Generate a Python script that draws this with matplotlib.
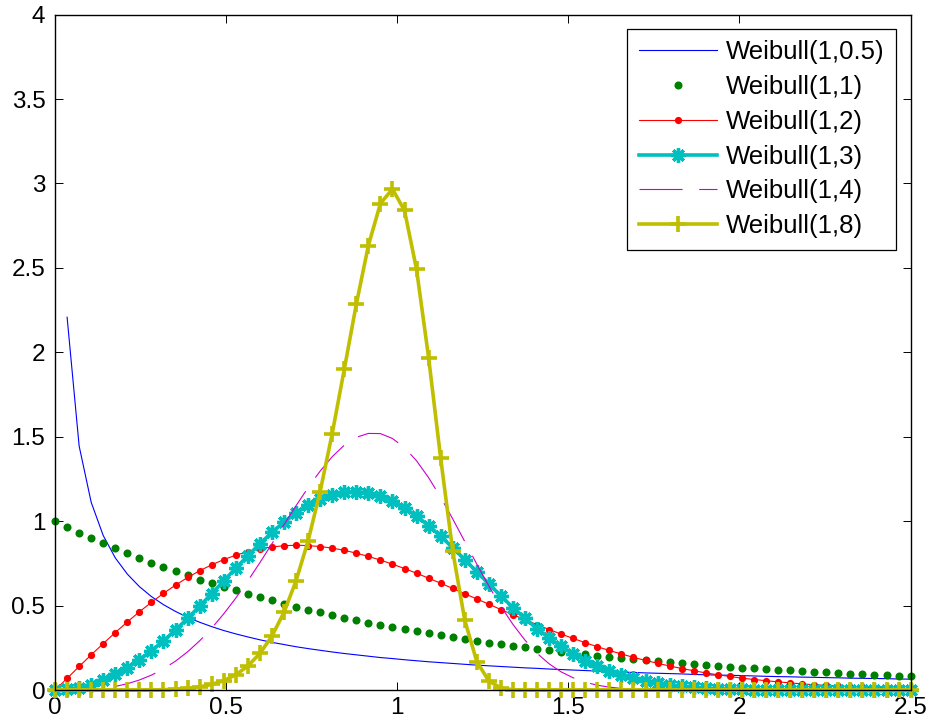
import numpy as np
import matplotlib
matplotlib.use('Agg')
import matplotlib.pyplot as plt
from matplotlib.ticker import FormatStrFormatter

plt.rcParams['font.family'] = ['Liberation Sans', 'DejaVu Sans']
plt.rcParams['lines.scale_dashes'] = False

# sample points along x (72 evenly spaced samples on [0, 2.5])
x = np.linspace(0, 2.5, 72)

# values
wbl_05 = [np.nan, 2.208, 1.445, 1.112, 0.915, 0.783, 0.687, 0.613, 0.554, 0.506,
          0.466, 0.431, 0.402, 0.376, 0.353, 0.333, 0.315, 0.298, 0.283, 0.270,
          0.257, 0.246, 0.236, 0.226, 0.217, 0.209, 0.201, 0.193, 0.187, 0.180,
          0.174, 0.168, 0.163, 0.158, 0.153, 0.148, 0.144, 0.140, 0.136, 0.132,
          0.129, 0.125, 0.122, 0.119, 0.116, 0.113, 0.110, 0.107, 0.105, 0.102,
          0.100, 0.098, 0.096, 0.093, 0.091, 0.089, 0.088, 0.086, 0.084, 0.082,
          0.080, 0.079, 0.077, 0.076, 0.074, 0.073, 0.071, 0.070, 0.069, 0.068,
          0.066, 0.065]
wbl_1 = [1.0, 0.965, 0.932, 0.900, 0.869, 0.839, 0.810, 0.782, 0.755, 0.728,
         0.703, 0.679, 0.655, 0.633, 0.611, 0.590, 0.569, 0.550, 0.531, 0.512,
         0.495, 0.477, 0.461, 0.445, 0.430, 0.415, 0.400, 0.387, 0.373, 0.360,
         0.348, 0.336, 0.324, 0.313, 0.302, 0.292, 0.282, 0.272, 0.262, 0.253,
         0.245, 0.236, 0.228, 0.220, 0.212, 0.205, 0.198, 0.191, 0.185, 0.178,
         0.172, 0.166, 0.160, 0.155, 0.149, 0.144, 0.139, 0.134, 0.130, 0.125,
         0.121, 0.117, 0.113, 0.109, 0.105, 0.101, 0.098, 0.095, 0.091, 0.088,
         0.085, 0.082]
wbl_2 = [0.0, 0.070, 0.140, 0.209, 0.276, 0.341, 0.404, 0.464, 0.520, 0.573,
         0.622, 0.667, 0.707, 0.742, 0.773, 0.799, 0.820, 0.837, 0.848, 0.855,
         0.858, 0.856, 0.850, 0.841, 0.828, 0.811, 0.792, 0.770, 0.746, 0.720,
         0.692, 0.663, 0.633, 0.602, 0.571, 0.540, 0.509, 0.477, 0.447, 0.417,
         0.388, 0.359, 0.332, 0.306, 0.281, 0.257, 0.235, 0.214, 0.194, 0.176,
         0.159, 0.143, 0.128, 0.115, 0.102, 0.091, 0.081, 0.071, 0.063, 0.056,
         0.049, 0.043, 0.037, 0.032, 0.028, 0.024, 0.021, 0.018, 0.015, 0.013,
         0.011, 0.010]
wbl_3 = [0.0, 0.004, 0.015, 0.033, 0.059, 0.093, 0.133, 0.180, 0.233, 0.292,
         0.356, 0.425, 0.497, 0.571, 0.647, 0.722, 0.796, 0.867, 0.934, 0.995,
         1.049, 1.095, 1.131, 1.157, 1.172, 1.175, 1.167, 1.148, 1.118, 1.079,
         1.030, 0.974, 0.911, 0.844, 0.773, 0.701, 0.629, 0.558, 0.489, 0.425,
         0.364, 0.309, 0.259, 0.214, 0.175, 0.141, 0.112, 0.088, 0.069, 0.053,
         0.040, 0.030, 0.022, 0.016, 0.011, 0.008, 0.006, 0.004, 0.003, 0.002,
         0.001, 0.001, 0.0, 0.0, 0.0, 0.0, 0.0, 0.0, 0.0, 0.0,
         0.0, 0.0]
wbl_4 = [0.0, 0.0, 0.001, 0.005, 0.011, 0.022, 0.038, 0.060, 0.089, 0.126,
         0.172, 0.227, 0.292, 0.367, 0.452, 0.545, 0.647, 0.755, 0.867, 0.980,
         1.092, 1.199, 1.297, 1.382, 1.450, 1.497, 1.520, 1.519, 1.490, 1.436,
         1.358, 1.258, 1.142, 1.014, 0.880, 0.746, 0.616, 0.496, 0.389, 0.296,
         0.218, 0.156, 0.108, 0.073, 0.047, 0.029, 0.018, 0.010, 0.006, 0.003,
         0.002, 0.001, 0.0, 0.0, 0.0, 0.0, 0.0, 0.0, 0.0, 0.0,
         0.0, 0.0, 0.0, 0.0, 0.0, 0.0, 0.0, 0.0, 0.0, 0.0,
         0.0, 0.0]
wbl_8 = [0.0, 0.0, 0.0, 0.0, 0.0, 0.0, 0.0, 0.0, 0.001, 0.003,
         0.005, 0.011, 0.019, 0.034, 0.056, 0.091, 0.143, 0.217, 0.320, 0.461,
         0.647, 0.884, 1.176, 1.519, 1.899, 2.285, 2.632, 2.881, 2.967, 2.840,
         2.491, 1.969, 1.374, 0.824, 0.414, 0.169, 0.054, 0.013, 0.002, 0.0,
         0.0, 0.0, 0.0, 0.0, 0.0, 0.0, 0.0, 0.0, 0.0, 0.0,
         0.0, 0.0, 0.0, 0.0, 0.0, 0.0, 0.0, 0.0, 0.0, 0.0,
         0.0, 0.0, 0.0, 0.0, 0.0, 0.0, 0.0, 0.0, 0.0, 0.0,
         0.0, 0.0]

labels = ['Weibull(1,0.5)', 'Weibull(1,1)', 'Weibull(1,2)',
          'Weibull(1,3)', 'Weibull(1,4)', 'Weibull(1,8)']
x_ticks = [0, 0.5, 1, 1.5, 2, 2.5]
y_ticks = [0, 0.5, 1, 1.5, 2, 2.5, 3, 3.5, 4]

fig = plt.figure(figsize=(9.33, 7.28), dpi=100)
ax = fig.add_axes([0.059, 0.052, 0.917, 0.928])

ax.plot(x, wbl_05, color=(0, 0, 1), lw=0.8, label=labels[0], clip_on=False)
ax.plot(x, wbl_1, color=(0, 0.5, 0), ls='none', marker='o', ms=5.8, mew=0,
        label=labels[1], clip_on=False)
ax.plot(x, wbl_2, color=(1, 0, 0), lw=0.8, marker='o', ms=5.2, mew=0,
        label=labels[2], clip_on=False)
ax.plot(x, wbl_3, color=(0, 0.75, 0.75), lw=2.6, marker=(8, 2, 0), ms=10.5, mew=2.4,
        label=labels[3], clip_on=False)
l4, = ax.plot(x, wbl_4, color=(0.8, 0, 0.8), lw=0.8, label=labels[4], clip_on=False)
l4.set_dashes([31, 12])
ax.plot(x, wbl_8, color=(0.75, 0.75, 0), lw=2.6, marker='+', ms=12, mew=2.6,
        label=labels[5], clip_on=False)

ax.set_xlim(0, 2.5)
ax.set_ylim(0, 4)
ax.set_xticks(x_ticks)
ax.set_yticks(y_ticks)
ax.xaxis.set_major_formatter(FormatStrFormatter('%g'))
ax.yaxis.set_major_formatter(FormatStrFormatter('%g'))
ax.tick_params(direction='in', top=True, right=True, length=6, width=0.7,
               labelsize=17.5)
ax.tick_params(axis='x', pad=5)
ax.tick_params(axis='y', pad=7)
for s in ax.spines.values():
    s.set_linewidth(1.0)

leg = ax.legend(loc='upper right', fontsize=18.5, numpoints=1, handlelength=3.05,
                handletextpad=0.35, labelspacing=0.42, borderpad=0.45,
                borderaxespad=0.55, fancybox=False, framealpha=1)
leg.get_frame().set_edgecolor('black')
leg.get_frame().set_linewidth(0.9)

fig.savefig('out.png', dpi=100)
